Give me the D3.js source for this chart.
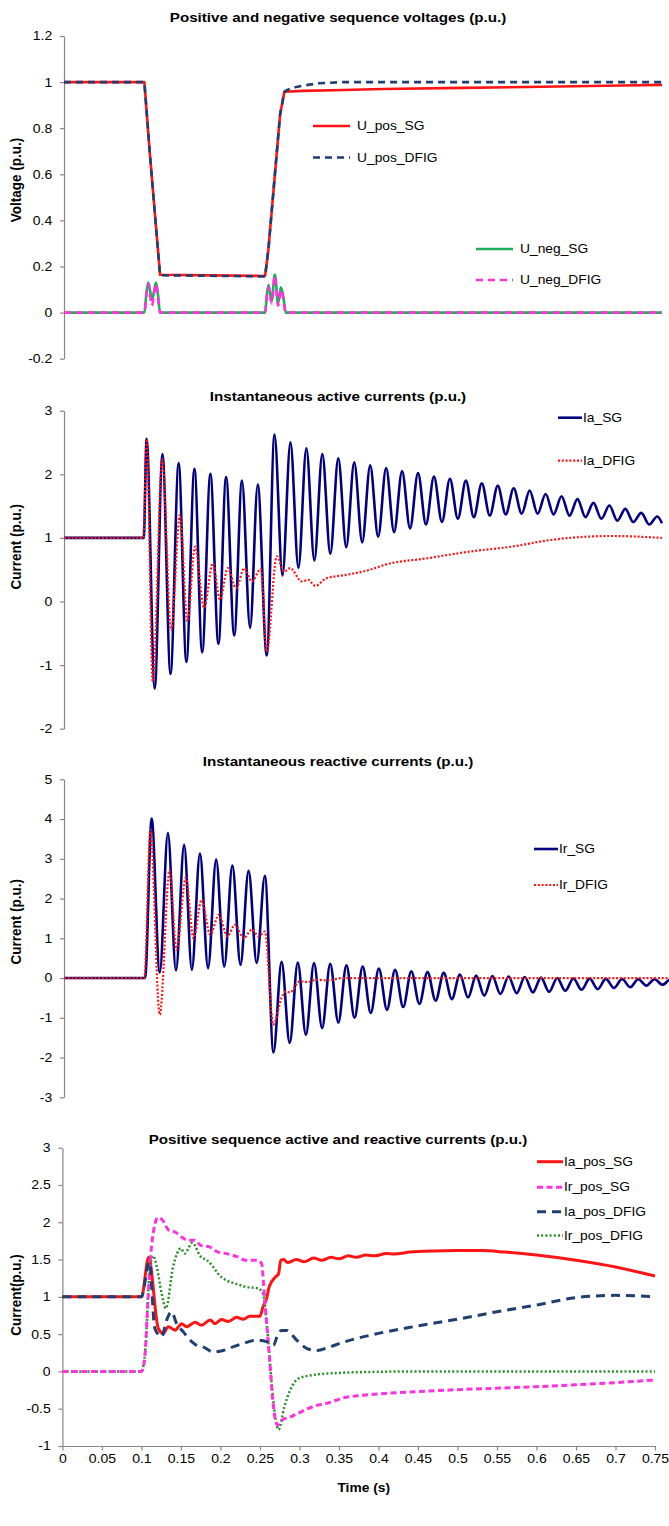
<!DOCTYPE html>
<html><head><meta charset="utf-8">
<script src="https://cdn.jsdelivr.net/npm/d3@7"></script>
<style>
html,body{margin:0;padding:0;background:#fff;}
svg{display:block;font-family:"Liberation Sans",Arial,sans-serif;}
</style></head><body>
<svg id="chart" width="669" height="1526"></svg>
<script>
// ---------------- DATA ----------------
const titles = [
  "Positive and negative sequence voltages (p.u.)",
  "Instantaneous active currents (p.u.)",
  "Instantaneous reactive currents (p.u.)",
  "Positive sequence active and reactive currents (p.u.)"
];
const yLabels = ["Voltage (p.u.)", "Current (p.u.)", "Current (p.u.)", "Current(p.u.)"];
const xTitle = "Time (s)";
const timeTicks = [0,0.05,0.1,0.15,0.2,0.25,0.3,0.35,0.4,0.45,0.5,0.55,0.6,0.65,0.7,0.75];
const voltTicks = [-0.2,0,0.2,0.4,0.6,0.8,1,1.2];
const iaTicks = [-2,-1,0,1,2,3];
const irTicks = [-3,-2,-1,0,1,2,3,4,5];
const posTicks = [-1,-0.5,0,0.5,1,1.5,2,2.5,3];

const uPosSG = [[0,1],[0.1008,1],[0.1079,0.68],[0.1205,0.164],[0.2522,0.159],[0.2563,0.272],[0.271,0.859],[0.2764,0.958],[0.3,0.962],[0.35,0.966],[0.4,0.970],[0.5,0.975],[0.6,0.980],[0.7,0.985],[0.75,0.988]];
const uPosDFIG = [[0,1],[0.1008,1],[0.1079,0.68],[0.1205,0.162],[0.2522,0.157],[0.2563,0.272],[0.271,0.859],[0.2764,0.958],[0.28,0.966],[0.29,0.978],[0.3,0.985],[0.32,0.995],[0.35,1.0],[0.75,1.0]];
const uNegSG = [[0,0],[0.1008,0],[0.1035,0.09],[0.1058,0.13],[0.1082,0.09],[0.1104,0.055],[0.1128,0.09],[0.1154,0.13],[0.1178,0.08],[0.1205,0],[0.2522,0],[0.2545,0.08],[0.2565,0.12],[0.2604,0.05],[0.2645,0.165],[0.2685,0.04],[0.272,0.11],[0.2755,0.06],[0.278,0],[0.75,0]];
const uNegDFIG = [[0,0],[0.1008,0],[0.1035,0.08],[0.1058,0.125],[0.1082,0.07],[0.1104,0.03],[0.1128,0.08],[0.1154,0.125],[0.1178,0.07],[0.1205,0],[0.2522,0],[0.2545,0.07],[0.2565,0.11],[0.2604,0.04],[0.2645,0.16],[0.2685,0.03],[0.272,0.10],[0.2755,0.05],[0.278,0],[0.75,0]];

const iaSG = [[0,1],[0.1,1],[0.1036,2.56],[0.1138,-1.37],[0.1235,2.32],[0.1336,-1.14],[0.1438,2.175],[0.1535,-0.95],[0.1636,2.086],[0.1733,-0.80],[0.1836,2.007],[0.1937,-0.666],[0.2033,1.955],[0.2135,-0.535],[0.2232,1.90],[0.2334,-0.414],[0.243,1.84],[0.2543,-0.85],[0.264,2.626],[0.274,0.41],[0.284,2.505],[0.294,0.53],[0.304,2.41],[0.314,0.645],[0.324,2.32],[0.334,0.75],[0.344,2.25],[0.354,0.854],[0.364,2.19],[0.374,0.93],[0.384,2.14],[0.394,1.02],[0.404,2.10],[0.414,1.09],[0.424,2.05],[0.434,1.15],[0.444,2.02],[0.454,1.21],[0.464,1.965],[0.474,1.25],[0.484,1.93],[0.494,1.30],[0.504,1.90],[0.514,1.326],[0.524,1.86],[0.534,1.35],[0.544,1.82],[0.554,1.37],[0.564,1.78],[0.574,1.38],[0.584,1.745],[0.594,1.38],[0.604,1.69],[0.614,1.37],[0.624,1.656],[0.634,1.35],[0.644,1.61],[0.654,1.326],[0.664,1.55],[0.674,1.30],[0.684,1.51],[0.694,1.27],[0.704,1.457],[0.714,1.25],[0.724,1.394],[0.734,1.21],[0.744,1.336],[0.75,1.23]];
const iaDFIG = [[0,1],[0.0995,1],[0.1038,2.55],[0.1113,-1.26],[0.1233,2.23],[0.1343,-0.445],[0.1455,1.363],[0.1547,-0.31],[0.1644,0.865],[0.1757,-0.1],[0.1866,0.60],[0.1957,0.03],[0.2054,0.525],[0.2158,0.21],[0.2262,0.525],[0.2355,0.315],[0.2468,0.51],[0.2543,-0.786],[0.2669,0.71],[0.276,0.47],[0.2836,0.525],[0.2982,0.315],[0.3065,0.34],[0.3149,0.247],[0.3296,0.367],[0.3547,0.42],[0.384,0.5],[0.4023,0.577],[0.456,0.68],[0.5094,0.786],[0.563,0.865],[0.606,0.96],[0.6437,1.01],[0.6863,1.03],[0.75,1.0]];

const irSG = [[0,0],[0.1,0],[0.1081,4.01],[0.1181,0.14],[0.1282,3.65],[0.1381,0.19],[0.1482,3.35],[0.1577,0.21],[0.1677,3.13],[0.1777,0.25],[0.1877,2.98],[0.1977,0.29],[0.2077,2.83],[0.2177,0.335],[0.2277,2.70],[0.2377,0.38],[0.2478,2.57],[0.2584,-1.87],[0.2684,0.41],[0.2784,-1.635],[0.2884,0.39],[0.2984,-1.43],[0.3084,0.38],[0.3184,-1.26],[0.3284,0.36],[0.3384,-1.12],[0.3484,0.32],[0.3584,-1.0],[0.3684,0.29],[0.3784,-0.88],[0.3884,0.24],[0.3984,-0.80],[0.4084,0.21],[0.4184,-0.73],[0.4284,0.17],[0.4384,-0.65],[0.4484,0.15],[0.4584,-0.57],[0.4684,0.13],[0.4784,-0.53],[0.4884,0.09],[0.4984,-0.49],[0.5084,0.06],[0.5184,-0.445],[0.5284,0.05],[0.5384,-0.40],[0.5484,0.04],[0.5584,-0.38],[0.5684,0.025],[0.5784,-0.36],[0.5884,0.01],[0.5984,-0.345],[0.6084,0],[0.6184,-0.32],[0.6284,-0.01],[0.6384,-0.295],[0.6484,-0.015],[0.6584,-0.28],[0.6684,-0.02],[0.6784,-0.25],[0.6884,-0.025],[0.6984,-0.23],[0.7084,-0.03],[0.7184,-0.19],[0.7284,-0.03],[0.7384,-0.17],[0.7484,-0.03],[0.75,-0.04]];
const irDFIG = [[0,0],[0.0991,0],[0.1065,3.73],[0.1181,-0.92],[0.1303,2.71],[0.1387,0.71],[0.1503,2.52],[0.1598,1.0],[0.1698,1.97],[0.1804,1.09],[0.1909,1.59],[0.2015,1.05],[0.2109,1.34],[0.2215,1.0],[0.2319,1.22],[0.2398,1.05],[0.2478,1.17],[0.2581,-1.17],[0.2684,-0.5],[0.2736,-0.34],[0.2787,-0.36],[0.291,-0.08],[0.3012,-0.1],[0.3116,-0.04],[0.3239,-0.06],[0.344,0],[0.75,0]];

const iaPosSG = [[0,1],[0.1,1],[0.1092,1.53],[0.1214,0.576],[0.1277,0.51],[0.134,0.60],[0.1425,0.553],[0.151,0.64],[0.157,0.60],[0.168,0.66],[0.176,0.62],[0.187,0.69],[0.193,0.64],[0.2015,0.695],[0.21,0.67],[0.2205,0.725],[0.229,0.70],[0.237,0.74],[0.25,0.74],[0.254,0.87],[0.2585,0.98],[0.2617,1.135],[0.27,1.27],[0.2736,1.31],[0.2763,1.49],[0.28,1.50],[0.285,1.46],[0.296,1.50],[0.306,1.47],[0.318,1.52],[0.328,1.49],[0.34,1.53],[0.35,1.51],[0.362,1.55],[0.372,1.53],[0.384,1.56],[0.395,1.55],[0.41,1.58],[0.42,1.575],[0.44,1.60],[0.47,1.615],[0.5,1.62],[0.53,1.62],[0.56,1.60],[0.6,1.56],[0.65,1.49],[0.7,1.40],[0.75,1.28]];
const irPosSG = [[0,0],[0.1,0],[0.104,0.15],[0.108,0.9],[0.113,1.7],[0.121,2.065],[0.1266,2.03],[0.1346,1.895],[0.1427,1.87],[0.151,1.80],[0.159,1.76],[0.167,1.76],[0.175,1.69],[0.186,1.67],[0.197,1.60],[0.2077,1.58],[0.221,1.54],[0.232,1.49],[0.2455,1.49],[0.252,1.45],[0.256,0.96],[0.2617,0.24],[0.267,-0.47],[0.2725,-0.72],[0.278,-0.65],[0.2888,-0.61],[0.2995,-0.555],[0.3104,-0.50],[0.324,-0.45],[0.3374,-0.42],[0.3537,-0.36],[0.3806,-0.32],[0.4077,-0.295],[0.45,-0.27],[0.5,-0.245],[0.55,-0.225],[0.6,-0.205],[0.65,-0.18],[0.7,-0.15],[0.75,-0.115]];
const iaPosDFIG = [[0,1],[0.1,1],[0.11,1.47],[0.117,0.576],[0.1256,0.465],[0.132,0.69],[0.138,0.80],[0.1446,0.64],[0.153,0.53],[0.1636,0.40],[0.17,0.35],[0.178,0.33],[0.191,0.26],[0.2036,0.28],[0.216,0.33],[0.233,0.39],[0.246,0.42],[0.2585,0.40],[0.267,0.35],[0.273,0.51],[0.2775,0.55],[0.2838,0.55],[0.2965,0.42],[0.309,0.31],[0.322,0.28],[0.3386,0.33],[0.355,0.39],[0.4,0.51],[0.45,0.61],[0.5,0.70],[0.55,0.80],[0.6,0.89],[0.65,0.99],[0.7,1.02],[0.75,1.0]];
const irPosDFIG = [[0,0],[0.1,0],[0.105,0.3],[0.11,1.3],[0.1147,1.55],[0.1195,1.4],[0.1255,1.05],[0.131,0.845],[0.14,1.40],[0.15,1.65],[0.1547,1.58],[0.1644,1.725],[0.175,1.54],[0.183,1.49],[0.191,1.40],[0.197,1.31],[0.2077,1.22],[0.2184,1.18],[0.232,1.135],[0.248,1.11],[0.2536,1.046],[0.259,0.60],[0.2645,-0.12],[0.27,-0.65],[0.2736,-0.78],[0.281,-0.47],[0.2883,-0.25],[0.299,-0.094],[0.316,-0.05],[0.35,-0.02],[0.4,-0.005],[0.45,0],[0.75,0]];

// ---------------- DRAWING ----------------
const SX = 1.15;            // horizontal stretch of the original picture's text
const AXIS = "#868686";
const RED = "#ff1414", NAVY = "#000080", SLATE = "#1f3f73", GREEN = "#1fae5a", MAG = "#ff33dd", DGREEN = "#2a8f2a";
const svg = d3.select("#chart");

function text(x, y, str, size, bold, anchor) {
  return svg.append("text")
    .attr("transform", `translate(${x},${y}) scale(${SX},1)`)
    .attr("dy", "0.35em")
    .attr("text-anchor", anchor || "start")
    .attr("font-size", size)
    .attr("font-weight", bold ? "bold" : "normal")
    .attr("fill", "#000")
    .text(str);
}

const panels = [
  { title: titles[0], yLabel: yLabels[0], yDomain: [-0.2, 1.2], yRange: [358.7, 36], xRange: [64, 662], ticks: voltTicks,
    titleY: 17, labelY: 180, curve: d3.curveLinear,
    series: [
      { name: "U_pos_SG", data: uPosSG, color: RED, w: 2.6, dash: null, lx: 313, ly: 126 },
      { name: "U_pos_DFIG", data: uPosDFIG, color: SLATE, w: 2.6, dash: "7,5", lx: 313, ly: 157.5 },
      { name: "U_neg_SG", data: uNegSG, color: GREEN, w: 2.6, dash: null, lx: 476, ly: 249, curve: d3.curveMonotoneX },
      { name: "U_neg_DFIG", data: uNegDFIG, color: MAG, w: 2.6, dash: "7,5", lx: 476, ly: 280, curve: d3.curveMonotoneX }
    ], legW: 37, legGap: 7 },
  { title: titles[1], yLabel: yLabels[1], yDomain: [-2, 3], yRange: [728.7, 410.7], xRange: [64, 662], ticks: iaTicks,
    titleY: 396.7, labelY: 546.7, curve: d3.curveMonotoneX,
    series: [
      { name: "Ia_SG", data: iaSG, color: NAVY, w: 2.6, dash: null, lx: 558, ly: 417.7 },
      { name: "Ia_DFIG", data: iaDFIG, color: RED, w: 2.2, dash: "2,1.8", lx: 558, ly: 460.7 }
    ], legW: 24, legGap: 1 },
  { title: titles[2], yLabel: yLabels[2], yDomain: [-3, 5], yRange: [1097.3, 779.3], xRange: [64, 672], ticks: irTicks,
    titleY: 761.7, labelY: 921.7, curve: d3.curveMonotoneX,
    series: [
      { name: "Ir_SG", data: irSG, color: NAVY, w: 2.6, dash: null, lx: 534, ly: 849 },
      { name: "Ir_DFIG", data: irDFIG, color: RED, w: 2.2, dash: "2,1.8", lx: 534, ly: 885 }
    ], legW: 24, legGap: 1 },
  { title: titles[3], yLabel: yLabels[3], yDomain: [-1, 3], yRange: [1446, 1147.7], xRange: [62.4, 655], ticks: posTicks,
    titleY: 1139, labelY: 1295, curve: d3.curveMonotoneX, xAxis: true,
    series: [
      { name: "Ia_pos_SG", data: iaPosSG, color: RED, w: 3, dash: null, lx: 537, ly: 1161.7, order: 0 },
      { name: "Ir_pos_SG", data: irPosSG, color: MAG, w: 3, dash: "6,3.5", lx: 537, ly: 1187.2, order: 2 },
      { name: "Ia_pos_DFIG", data: iaPosDFIG, color: SLATE, w: 3, dash: "9,6", lx: 537, ly: 1211.7, order: 3 },
      { name: "Ir_pos_DFIG", data: irPosDFIG, color: DGREEN, w: 2.5, dash: "2,2.2", lx: 537, ly: 1235.5, order: 1 }
    ], legW: 26, legGap: 1 }
];

panels.forEach(p => {
  const x = d3.scaleLinear().domain([0, 0.75]).range(p.xRange);
  const y = d3.scaleLinear().domain(p.yDomain).range(p.yRange);
  const axisX = p.xRange[0];

  // y axis
  const gy = svg.append("g").attr("transform", `translate(${axisX},0)`)
    .call(d3.axisLeft(y).tickValues(p.ticks).tickSize(4).tickSizeOuter(0).tickPadding(6.2).tickFormat(d => String(d)));
  gy.select(".domain").attr("stroke", AXIS).attr("stroke-width", 1.2);
  gy.selectAll(".tick line").attr("stroke", AXIS).attr("stroke-width", 1.2);
  gy.selectAll(".tick text").attr("font-size", 12.2).attr("font-family", "Liberation Sans, Arial, sans-serif")
    .attr("fill", "#000").attr("transform", `scale(${SX},1)`);

  if (p.xAxis) {
    const gx = svg.append("g").attr("transform", `translate(0,${p.yRange[0]})`)
      .call(d3.axisBottom(x).tickValues(timeTicks).tickSize(4.5).tickSizeOuter(0).tickPadding(3.5).tickFormat(d => String(d)));
    gx.select(".domain").attr("stroke", AXIS).attr("stroke-width", 1.2);
    gx.selectAll(".tick line").attr("stroke", AXIS).attr("stroke-width", 1.2);
    gx.selectAll(".tick text").attr("font-size", 12.2).attr("font-family", "Liberation Sans, Arial, sans-serif")
      .attr("fill", "#000").attr("transform", `scale(${SX},1)`);
    text(363.7, 1488, xTitle, 12, true, "middle");
  }

  // titles
  text(338, p.titleY, p.title, 13.2, true, "middle");
  svg.append("text")
    .attr("transform", `translate(16,${p.labelY}) rotate(-90) scale(1,${SX})`)
    .attr("dy", "0.35em").attr("text-anchor", "middle")
    .attr("font-size", 13.5).attr("font-weight", "bold").text(p.yLabel);

  // series
  const ordered = p.series.slice().sort((a, b) => (a.order ?? 0) - (b.order ?? 0));
  ordered.forEach(s => {
    const line = d3.line().x(d => x(d[0])).y(d => y(d[1])).curve(s.curve || p.curve);
    svg.append("path").datum(s.data)
      .attr("d", line)
      .attr("fill", "none")
      .attr("stroke", s.color)
      .attr("stroke-width", s.w)
      .attr("stroke-linejoin", "round")
      .attr("stroke-dasharray", s.dash);
  });

  // legend
  p.series.forEach(s => {
    svg.append("line")
      .attr("x1", s.lx).attr("x2", s.lx + p.legW)
      .attr("y1", s.ly).attr("y2", s.ly)
      .attr("stroke", s.color).attr("stroke-width", s.w)
      .attr("stroke-dasharray", s.dash);
    text(s.lx + p.legW + p.legGap, s.ly, s.name, 12, false, "start");
  });
});
</script>
</body></html>
